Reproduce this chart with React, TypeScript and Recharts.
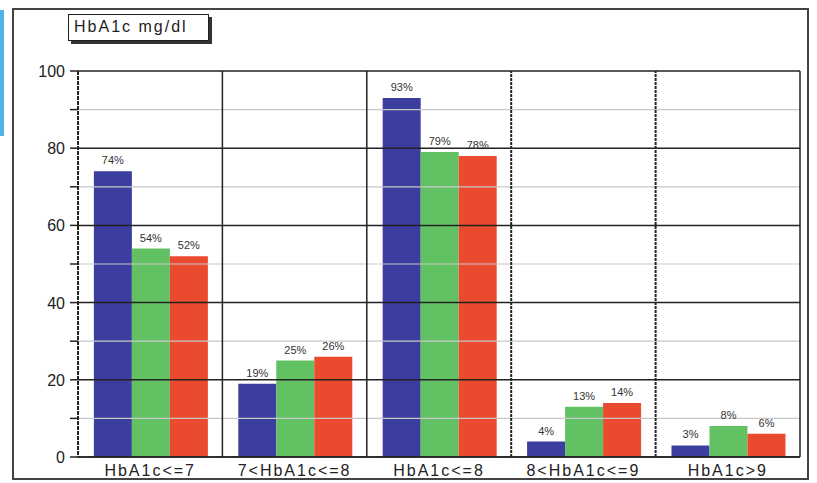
import React from 'react';
import { BarChart, Bar, XAxis, YAxis, ReferenceLine, LabelList } from 'recharts';

const categories = ['HbA1c<=7', '7<HbA1c<=8', 'HbA1c<=8', '8<HbA1c<=9', 'HbA1c>9'];
const blueValues = [74, 19, 93, 4, 3];
const greenValues = [54, 25, 79, 13, 8];
const redValues = [52, 26, 78, 14, 6];
const majorTicks = [0, 20, 40, 60, 80, 100];
const minorTicks = [10, 30, 50, 70, 90];
const allTicks = [...majorTicks, ...minorTicks].sort((a, b) => a - b);

const data = categories.map((name, i) => ({
  name,
  blue: blueValues[i],
  green: greenValues[i],
  red: redValues[i],
}));

const font = '"Liberation Sans", Arial, sans-serif';
const labelStyle = { fontSize: 11, fill: '#333', fontFamily: font };

// only label the major ticks, minor ones keep just their tick mark
const YTick = (props: any) => {
  const { x, y, payload } = props;
  if (!majorTicks.includes(payload.value)) return null;
  return (
    <text x={x} y={y} dy={6} textAnchor="end" fontSize={16} fill="#222" fontFamily={font}>
      {payload.value}
    </text>
  );
};

const App: React.FC = () => {
  return (
    <div style={{ position: 'absolute', left: 0, top: 0, width: 817, height: 483, background: '#fff', fontFamily: font }}>
      {/* light blue strip on the left edge */}
      <div style={{ position: 'absolute', left: 0, top: 10, width: 4, height: 126, background: '#4fb3e6' }} />
      {/* outer frame */}
      <div style={{ position: 'absolute', left: 12, top: 8, width: 797, height: 472, border: '2px solid #444', boxSizing: 'border-box' }} />
      <div style={{ position: 'absolute', left: 0, top: 0 }}>
        <BarChart
          width={817}
          height={483}
          data={data}
          margin={{ top: 71, right: 17, bottom: 0, left: 0 }}
          barCategoryGap="11%"
          barGap={0}
        >
          {minorTicks.map(v => (
            <ReferenceLine key={`mi${v}`} y={v} stroke="#c8c8c8" strokeWidth={1.2} />
          ))}
          {majorTicks.map(v => (
            <ReferenceLine key={`ma${v}`} y={v} stroke="#222" strokeWidth={1.5} />
          ))}
          <XAxis
            dataKey="name"
            height={26}
            tickLine={false}
            axisLine={{ stroke: '#222', strokeWidth: 1.5 }}
            tick={{ fontSize: 16, fill: '#222', fontFamily: font, letterSpacing: 2 }}
            tickMargin={2}
            interval={0}
          />
          <YAxis
            width={78}
            domain={[0, 100]}
            ticks={allTicks}
            interval={0}
            tickSize={8}
            tickLine={{ stroke: '#222', strokeWidth: 1.5 }}
            axisLine={{ stroke: '#222', strokeWidth: 2, strokeDasharray: '4 1' }}
            tick={<YTick />}
            tickMargin={5}
          />
          {categories.slice(1).map((c, i) => (
            <ReferenceLine
              key={c}
              x={c}
              position="start"
              stroke="#222"
              strokeWidth={i >= 2 ? 2 : 1.5}
              strokeDasharray={i >= 2 ? '3 1' : undefined}
            />
          ))}
          <ReferenceLine x={categories[categories.length - 1]} position="end" stroke="#222" strokeWidth={1.5} />
          <Bar dataKey="blue" fill="#3b3e9e" isAnimationActive={false}>
            <LabelList dataKey="blue" position="top" offset={7} formatter={(v: any) => `${v}%`} style={labelStyle} />
          </Bar>
          <Bar dataKey="green" fill="#62c163" isAnimationActive={false}>
            <LabelList dataKey="green" position="top" offset={7} formatter={(v: any) => `${v}%`} style={labelStyle} />
          </Bar>
          <Bar dataKey="red" fill="#ea4a2e" isAnimationActive={false}>
            <LabelList dataKey="red" position="top" offset={7} formatter={(v: any) => `${v}%`} style={labelStyle} />
          </Bar>
        </BarChart>
      </div>
      {/* title box */}
      <div
        style={{
          position: 'absolute',
          left: 68,
          top: 14,
          width: 141,
          height: 27,
          border: '1.5px solid #222',
          boxShadow: '3px 3px 0 #333',
          background: '#fff',
          boxSizing: 'border-box',
          fontSize: 16,
          letterSpacing: 2,
          color: '#222',
          paddingLeft: 5,
          lineHeight: '24px',
          whiteSpace: 'nowrap',
        }}
      >
        HbA1c mg/dl
      </div>
    </div>
  );
};

export default App;
